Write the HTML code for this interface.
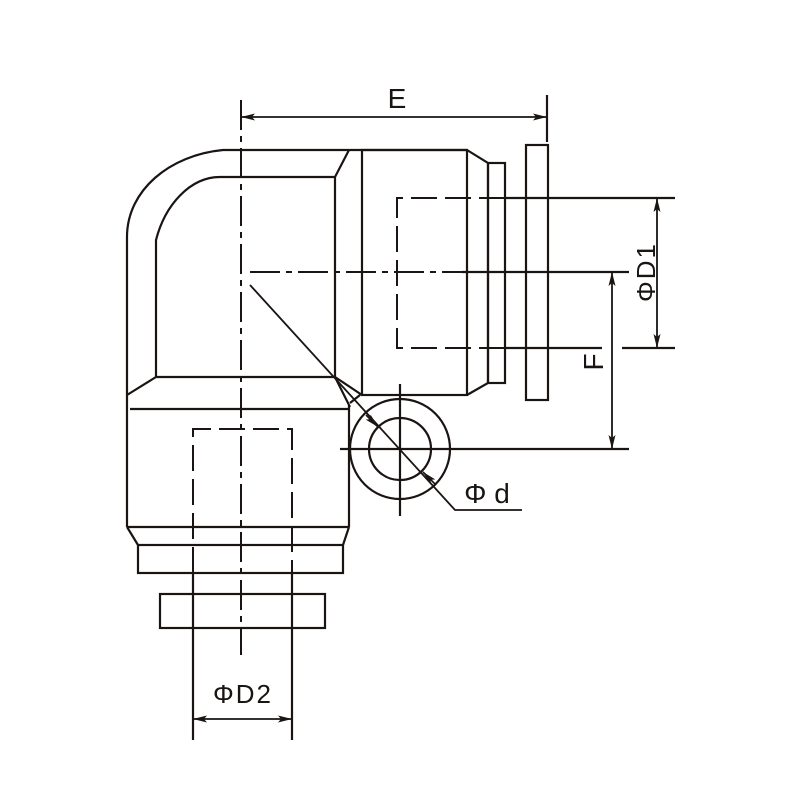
<!DOCTYPE html>
<html><head><meta charset="utf-8"><style>body{margin:0;background:#fff}svg{display:block}</style></head><body>
<svg width="800" height="800" viewBox="0 0 800 800" xmlns="http://www.w3.org/2000/svg">
<defs>
<marker id="a" viewBox="0 0 14 7" refX="14" refY="3.5" markerWidth="14" markerHeight="7" markerUnits="userSpaceOnUse" orient="auto-start-reverse"><path d="M0,0 L14,3.5 L0,7 L3,3.5 Z" fill="#1a1412"/></marker>
</defs>
<g fill="none" stroke="#1a1412" stroke-width="2.2">
<path d="M349,150 L223,150 C170,155 127,190 127,237 L127,527"/>
<path d="M335,177 L220,177 C190,177 165,205 156,240 L156,377 L335,377 L335,177 L349,150"/>
<path d="M127,395 L156,377"/>
<line x1="349" y1="150" x2="467" y2="150"/>
<rect x="362" y="150" width="105" height="245"/>
<path d="M467,150 L488,163 L488,383 L467,395"/>
<rect x="488" y="163" width="17" height="220"/>
<rect x="526" y="145" width="22" height="255"/>
<line x1="505" y1="198" x2="675" y2="198"/>
<line x1="505" y1="348" x2="602" y2="348"/>
<line x1="622" y1="348" x2="675" y2="348"/>
<line x1="462" y1="272" x2="629" y2="272"/>
<path d="M335,377 L362,395 M335,377 L350,407 M360,395 L350,403"/>
<line x1="130" y1="409" x2="349" y2="409"/>
<line x1="349" y1="405" x2="349" y2="527"/>
<line x1="127" y1="527" x2="349" y2="527"/>
<path d="M127,527 L138,545 M349,527 L343,545"/>
<rect x="138" y="545" width="205" height="28"/>
<rect x="160" y="594" width="165" height="34"/>
<line x1="193" y1="573" x2="193" y2="740"/>
<line x1="292" y1="573" x2="292" y2="740"/>
<circle cx="400" cy="449" r="50"/>
<circle cx="400" cy="449" r="31"/>
<line x1="400" y1="384" x2="400" y2="516"/>
<line x1="340" y1="449" x2="629" y2="449"/>
<line x1="547" y1="95" x2="547" y2="142"/>
</g>
<g fill="none" stroke="#1a1412" stroke-width="2">
<path d="M505,198 L397,198 L397,348 L505,348" stroke-dasharray="26,8"/>
<path d="M193,573 L193,429 L292,429 L292,573" stroke-dasharray="26,8"/>
<line x1="250" y1="272" x2="462" y2="272" stroke-dasharray="30,6,6,6"/>
<line x1="241" y1="100" x2="241" y2="655" stroke-dasharray="30,6,6,6"/>
<polyline points="250,285 455,510 522,510" stroke-width="1.8"/>
<line x1="366" y1="415" x2="378" y2="427" marker-end="url(#a)" stroke-width="1.6"/>
<line x1="435" y1="484" x2="423" y2="472" marker-end="url(#a)" stroke-width="1.6"/>
<line x1="241" y1="117" x2="547" y2="117" marker-start="url(#a)" marker-end="url(#a)" stroke-width="1.8"/>
<line x1="657" y1="198" x2="657" y2="348" marker-start="url(#a)" marker-end="url(#a)" stroke-width="1.8"/>
<line x1="612" y1="272" x2="612" y2="449" marker-start="url(#a)" marker-end="url(#a)" stroke-width="1.8"/>
<line x1="193" y1="719" x2="292" y2="719" marker-start="url(#a)" marker-end="url(#a)" stroke-width="1.8"/>
</g>
<g font-family="Liberation Sans, sans-serif" fill="#1a1412">
<text x="397" y="108" font-size="28" text-anchor="middle">E</text>
<text x="487" y="503" font-size="28" text-anchor="middle">Φ d</text>
<text x="243" y="703" font-size="26" text-anchor="middle" letter-spacing="2">ΦD2</text>
<text transform="translate(655,272) rotate(-90)" font-size="26" text-anchor="middle" letter-spacing="2">ΦD1</text>
<text transform="translate(603,362) rotate(-90)" font-size="28" text-anchor="middle">F</text>
</g>
</svg>
</body></html>
